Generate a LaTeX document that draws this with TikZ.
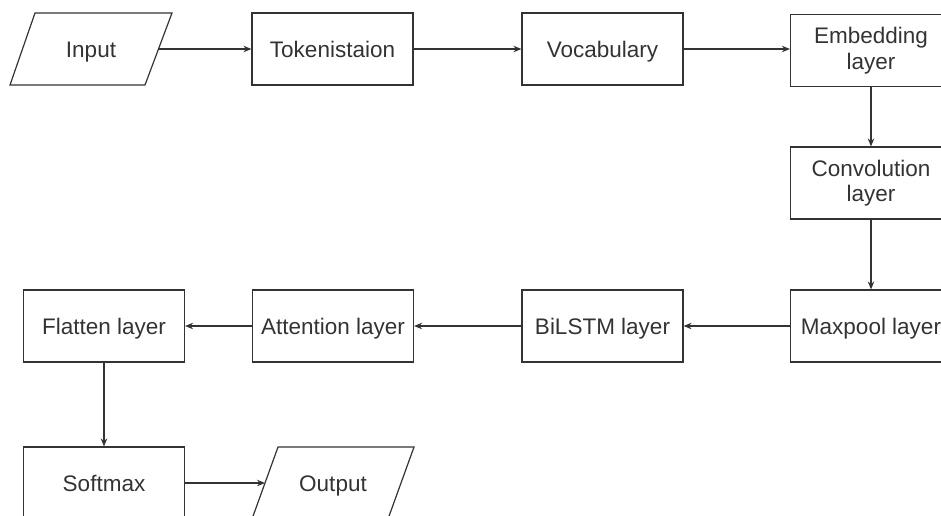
\documentclass[tikz,border=0pt]{standalone}
\usepackage{fontspec}
\setmainfont{Liberation Sans}
\usetikzlibrary{arrows.meta}
\definecolor{ink}{HTML}{333333}
\tikzset{
  lbl/.style={text=ink, font=\fontsize{22.5}{25.5}\selectfont, inner sep=0pt},
  oneline/.style={text height=18pt, text depth=2pt},
  blk/.style={lbl, draw=ink, line width=1.2pt, rectangle, minimum width=161pt, minimum height=72pt, align=center},
  iobox/.style={draw=ink, line width=1.2pt, line join=miter},
  flow/.style={draw=ink, line width=1.1pt, -{Stealth[length=8pt,width=6.5pt]}}
}
\begin{document}
\begin{tikzpicture}[x=1pt,y=-1pt]
  \useasboundingbox (0,0) rectangle (941,515);
  \clip (0,0) rectangle (941,515);
  % input / output parallelograms
  \draw[iobox] (35,13) -- (172,13) -- (145,85) -- (10,85) -- cycle;
  \node[lbl, oneline] (in) at (91,49) {Input};
  \coordinate (in-r) at (158.5,49);
  \draw[iobox] (278,447) -- (414,447) -- (388,519) -- (252,519) -- cycle;
  \node[lbl, oneline] (out) at (333,483) {Output};
  \coordinate (out-l) at (265,483);
  % top row
  \node[blk, oneline] (tok)  at (332.5,49) {Tokenistaion};
  \node[blk, oneline] (voc)  at (602.5,49) {Vocabulary};
  \node[blk] (emb)  at (871,50.5)   {Embedding\\layer};
  % right column
  \node[blk] (conv) at (871,183) {Convolution\\layer};
  % middle row
  \node[blk, oneline] (maxp) at (871,326)   {Maxpool layer};
  \node[blk, oneline] (bil)  at (602.5,326) {BiLSTM layer};
  \node[blk, oneline] (att)  at (333,326)   {Attention layer};
  \node[blk, oneline] (flat) at (104,326)   {Flatten layer};
  % bottom row
  \node[blk, oneline] (soft) at (104,483)   {Softmax};
  % connectors
  \draw[flow] (in-r) -- (tok);
  \draw[flow] (tok) -- (voc);
  \draw[flow] (voc) -- (emb.west |- voc);
  \draw[flow] (emb) -- (conv);
  \draw[flow] (conv) -- (maxp);
  \draw[flow] (maxp) -- (bil);
  \draw[flow] (bil) -- (att);
  \draw[flow] (att) -- (flat);
  \draw[flow] (flat) -- (soft);
  \draw[flow] (soft) -- (out-l);
\end{tikzpicture}
\end{document}
